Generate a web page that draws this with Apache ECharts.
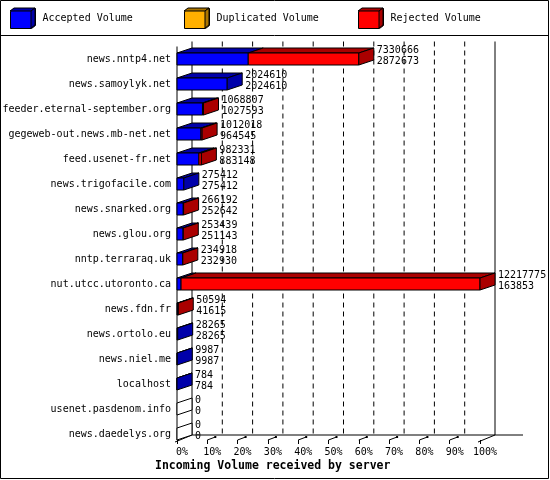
<!DOCTYPE html>
<html>
<head>
<meta charset="utf-8">
<script src="https://cdn.jsdelivr.net/npm/echarts@6/dist/echarts.min.js"></script>
<style>
html, body { margin: 0; padding: 0; background: #fff; }
#chart { width: 550px; height: 480px; }
</style>
</head>
<body>
<div id="chart"></div>
<script>
// servers, top to bottom
var servers = ['news.nntp4.net', 'news.samoylyk.net', 'feeder.eternal-september.org',
	'gegeweb-out.news.mb-net.net', 'feed.usenet-fr.net', 'news.trigofacile.com',
	'news.snarked.org', 'news.glou.org', 'nntp.terraraq.uk', 'nut.utcc.utoronto.ca',
	'news.fdn.fr', 'news.ortolo.eu', 'news.niel.me', 'localhost',
	'usenet.pasdenom.info', 'news.daedelys.org'];
// first number printed next to each bar (whole bar)
var totalVolume = [7330666, 2024610, 1068807, 1012018, 982331, 275412, 266192, 253439,
	234918, 12217775, 50594, 28265, 9987, 784, 0, 0];
// second number printed next to each bar (blue part)
var acceptedVolume = [2872673, 2024610, 1027593, 964545, 883148, 275412, 252642, 251143,
	232930, 163853, 41615, 28265, 9987, 784, 0, 0];
var duplicatedVolume = [0, 0, 0, 0, 0, 0, 0, 0, 0, 0, 0, 0, 0, 0, 0, 0];
var percentTicks = ['0%', '10%', '20%', '30%', '40%', '50%', '60%', '70%', '80%', '90%', '100%'];
var legendNames = ['Accepted Volume', 'Duplicated Volume', 'Rejected Volume'];

var FONT = '"DejaVu Sans Mono", monospace';
var DX = 15, DY = -5, H = 12; // fake 3d depth and bar front height
var colors = [['#0000ff', '#0000aa'], ['#ffb000', '#aa7500'], ['#ff0000', '#aa0000']];

var maxVolume = Math.max.apply(null, totalVolume);
var step = maxVolume / 10;

// stacked pieces: [row, from, to, isBarEnd]
var accData = [], dupData = [], rejData = [];
servers.forEach(function (s, i) {
	var acc = acceptedVolume[i], dup = duplicatedVolume[i], tot = totalVolume[i];
	var end = tot > acc + dup ? 2 : (dup > 0 ? 1 : 0);
	accData.push([i, 0, acc, end == 0 ? 1 : 0]);
	dupData.push([i, acc, acc + dup, end == 1 ? 1 : 0]);
	rejData.push([i, acc + dup, tot, end == 2 ? 1 : 0]);
});
var labelData = servers.map(function (s, i) { return [i, totalVolume[i], totalVolume[i]]; });

function pieceRenderer(face, dark) {
	return function (params, api) {
		var row = api.value(0), x1 = api.value(1), x2 = api.value(2), isEnd = api.value(3);
		var a = api.coord([x1, row]), b = api.coord([x2, row]);
		var y0 = a[1] - H / 2, y1 = a[1] + H / 2;
		var kids = [];
		if (x2 > x1) {
			kids.push({ type: 'polygon', shape: { points: [[a[0], y0], [b[0], y0], [b[0] + DX, y0 + DY], [a[0] + DX, y0 + DY]] },
				style: { fill: dark, stroke: '#000', lineWidth: 1 } });
			kids.push({ type: 'rect', shape: { x: a[0], y: y0, width: b[0] - a[0], height: H },
				style: { fill: face, stroke: '#000', lineWidth: 1 } });
		}
		if (isEnd) {
			kids.push({ type: 'polygon', shape: { points: [[b[0], y0], [b[0] + DX, y0 + DY], [b[0] + DX, y1 + DY], [b[0], y1]] },
				style: { fill: x2 > 0 ? dark : '#fff', stroke: '#000', lineWidth: 1 } });
		}
		return { type: 'group', children: kids };
	};
}

function renderFrame(params, api) {
	var last = servers.length - 1;
	var band = api.size([0, 1])[1];
	var yTop = api.coord([0, 0])[1] - band / 2;
	var yFloor = api.coord([0, last])[1] + H / 2;
	var kids = [];
	for (var k = 0; k <= 10; k++) {
		var x = api.coord([k * step, last])[0];
		var edge = (k == 0 || k == 10);
		kids.push({ type: 'line', shape: { x1: x + DX, y1: yTop + DY, x2: x + DX, y2: yFloor + DY },
			style: { stroke: '#000', lineWidth: 1, lineDash: edge ? null : [5, 4] } });
		if (edge) {
			kids.push({ type: 'line', shape: { x1: x - 2, y1: yFloor + 2, x2: x + DX, y2: yFloor + DY },
				style: { stroke: '#000', lineWidth: 1 } });
		} else {
			// little floor mark of each tick
			kids.push({ type: 'line', shape: { x1: x, y1: yFloor, x2: x + 8, y2: yFloor - 3 },
				style: { stroke: '#000', lineWidth: 1 } });
			kids.push({ type: 'rect', shape: { x: x + 7, y: yFloor - 4, width: 2, height: 2 },
				style: { fill: '#000' } });
		}
	}
	var x0 = api.coord([0, last])[0], x10 = api.coord([maxVolume, last])[0];
	kids.push({ type: 'line', shape: { x1: x0 + DX, y1: yFloor + DY, x2: x10 + DX + 28, y2: yFloor + DY },
		style: { stroke: '#000', lineWidth: 1 } });
	kids.push({ type: 'line', shape: { x1: x0, y1: yTop, x2: x0, y2: yFloor },
		style: { stroke: '#000', lineWidth: 1 } });
	return { type: 'group', children: kids };
}

function renderLabel(params, api) {
	var row = api.value(0);
	var p = api.coord([api.value(1), row]);
	return {
		type: 'text', x: p[0] + DX + 3, y: p[1] - 3,
		style: { text: totalVolume[row] + '\n' + acceptedVolume[row], font: '10px ' + FONT,
			fill: '#000', align: 'left', verticalAlign: 'middle', lineHeight: 11 }
	};
}

var legendLeft = [10, 184, 358];
var cubeIcon = 'path://M0,3L4,0L25,0L25,17L21,20L0,20Z';
var graphic = [
	{ type: 'rect', shape: { x: 0.5, y: 0.5, width: 548, height: 478 }, style: { fill: 'none', stroke: '#000', lineWidth: 1 }, z: 100 },
	{ type: 'line', shape: { x1: 0, y1: 35.5, x2: 549, y2: 35.5 }, style: { stroke: '#000', lineWidth: 1 }, z: 100 }
];
legendLeft.forEach(function (L, i) {
	var T = 8;
	graphic.push({ type: 'polygon', z: 100, shape: { points: [[L, T + 3], [L + 4, T], [L + 25, T], [L + 21, T + 3]] },
		style: { fill: colors[i][1], stroke: '#000', lineWidth: 1 } });
	graphic.push({ type: 'polygon', z: 100, shape: { points: [[L + 21, T + 3], [L + 25, T], [L + 25, T + 17], [L + 21, T + 20]] },
		style: { fill: colors[i][1], stroke: '#000', lineWidth: 1 } });
});

var chart = echarts.init(document.getElementById('chart'), null, { renderer: 'canvas' });
var option = {
	backgroundColor: '#fff',
	animation: false,
	title: {
		text: 'Incoming Volume received by server',
		left: 155, top: 460, padding: 0,
		textStyle: { fontFamily: FONT, fontSize: 11.5, fontWeight: 'bold', color: '#000' }
	},
	legend: legendNames.map(function (n, i) {
		return {
			data: [n], left: legendLeft[i], top: 8, padding: 0,
			itemWidth: 25, itemHeight: 20, icon: cubeIcon, selectedMode: false,
			itemStyle: { borderColor: '#000', borderWidth: 1 },
			textStyle: { fontFamily: FONT, fontSize: 10, color: '#000', padding: [0, 0, 0, 2] }
		};
	}),
	grid: { left: 177, right: 70, top: 46.5, bottom: 33.5, containLabel: false, outerBoundsMode: 'none' },
	xAxis: {
		type: 'value', min: 0, max: maxVolume, interval: step, offset: -6.5,
		axisLine: { show: false },
		axisTick: { show: true, length: 4, lineStyle: { color: '#000' } },
		splitLine: { show: false },
		axisLabel: {
			fontFamily: FONT, fontSize: 10, color: '#000', margin: 7, showMaxLabel: true,
			padding: [0, 0, 0, 10],
			formatter: function (v) { return percentTicks[Math.round(v / step)]; }
		}
	},
	yAxis: {
		type: 'category', data: servers, inverse: true,
		axisLine: { show: false }, axisTick: { show: false },
		axisLabel: { fontFamily: FONT, fontSize: 10, color: '#000', margin: 6 }
	},
	graphic: graphic,
	series: [
		{ type: 'custom', name: 'frame', renderItem: renderFrame, data: [[0, 0]], silent: true, z: 1 },
		{ type: 'custom', name: legendNames[0], renderItem: pieceRenderer(colors[0][0], colors[0][1]),
			itemStyle: { color: colors[0][0] }, encode: { x: [1, 2], y: 0 }, data: accData, z: 2 },
		{ type: 'custom', name: legendNames[1], renderItem: pieceRenderer(colors[1][0], colors[1][1]),
			itemStyle: { color: colors[1][0] }, encode: { x: [1, 2], y: 0 }, data: dupData, z: 3 },
		{ type: 'custom', name: legendNames[2], renderItem: pieceRenderer(colors[2][0], colors[2][1]),
			itemStyle: { color: colors[2][0] }, encode: { x: [1, 2], y: 0 }, data: rejData, z: 4 },
		{ type: 'custom', name: 'labels', renderItem: renderLabel, encode: { x: [1, 2], y: 0 }, data: labelData, silent: true, z: 5 }
	]
};
chart.setOption(option);
</script>
</body>
</html>
